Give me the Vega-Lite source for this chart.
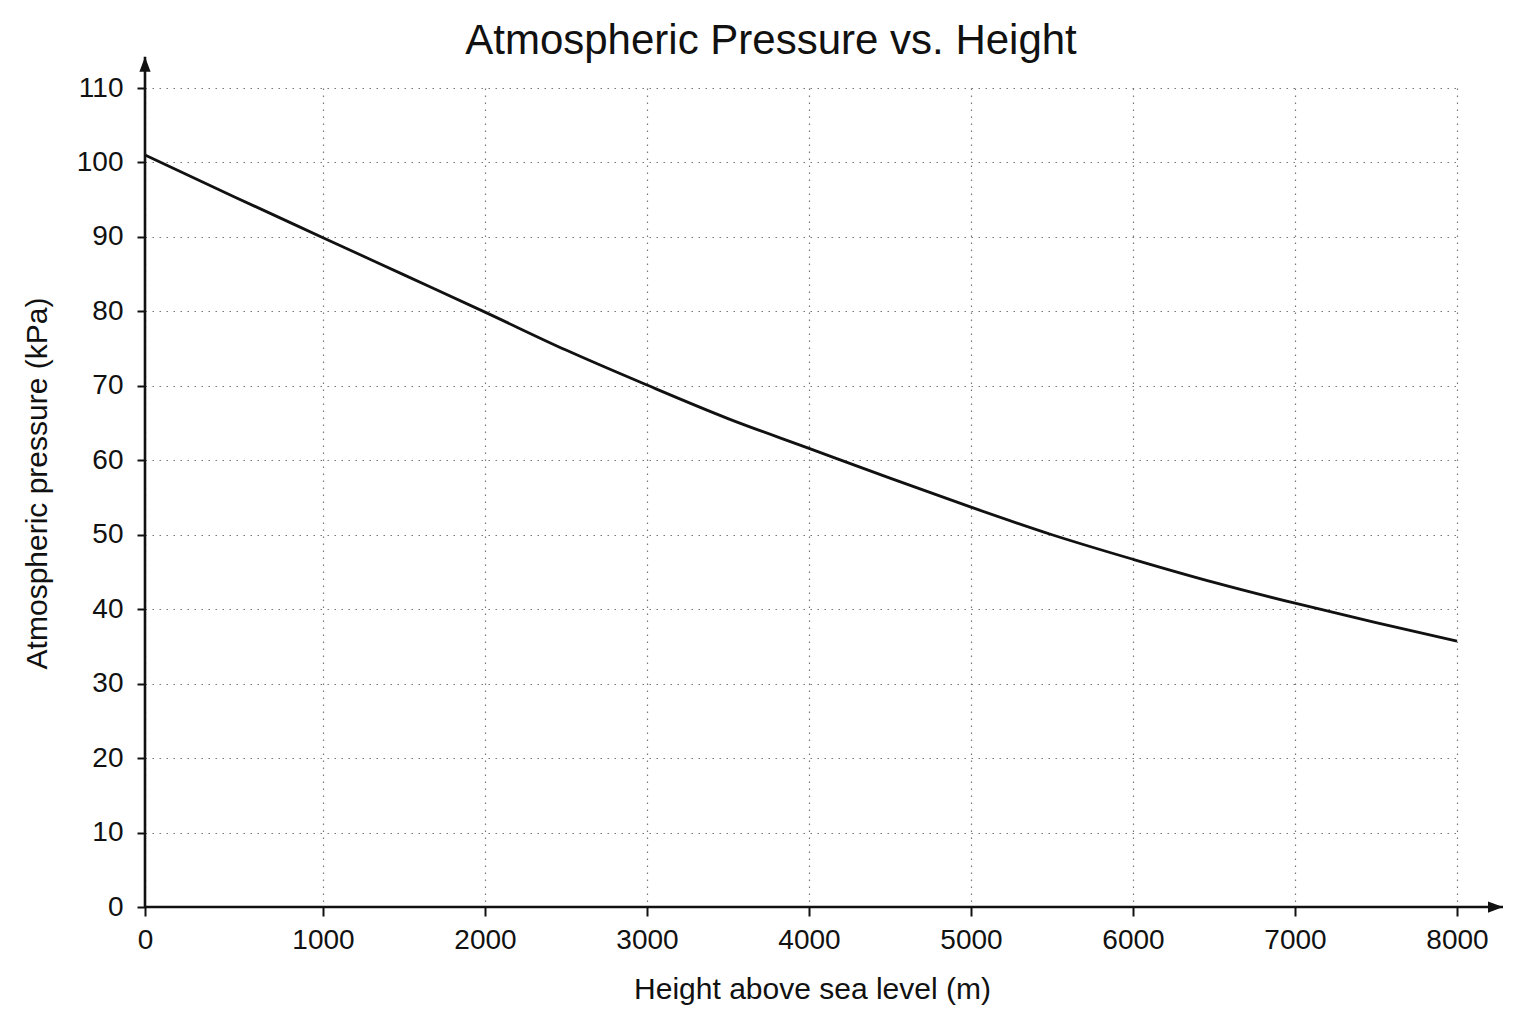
{
  "$schema": "https://vega.github.io/schema/vega-lite/v6.json",
  "autosize": {"type": "none"},
  "padding": {"left": 145, "top": 88, "right": 79, "bottom": 117},
  "width": 1312,
  "height": 819,
  "background": "white",
  "title": {
    "text": "Atmospheric Pressure vs. Height",
    "font": "Liberation Sans",
    "fontSize": 42,
    "fontWeight": "normal",
    "color": "#111",
    "anchor": "middle",
    "frame": "group",
    "dx": -30,
    "dy": 36,
    "offset": 28
  },
  "config": {
    "view": {"stroke": null},
    "axis": {
      "labelFont": "Liberation Sans",
      "titleFont": "Liberation Sans",
      "labelColor": "#111",
      "titleColor": "#111",
      "titleFontWeight": "normal",
      "labelFontSize": 28,
      "titleFontSize": 30,
      "labelFlush": false,
      "domain": false,
      "tickColor": "#111",
      "tickWidth": 2,
      "grid": true,
      "gridColor": "#777",
      "gridWidth": 1.2,
      "gridDash": [1.5, 5.5]
    }
  },
  "layer": [
    {
      "data": {
        "values": [
          {"height": 0, "pressure": 101.0},
          {"height": 500, "pressure": 95.4},
          {"height": 1000, "pressure": 89.9},
          {"height": 1500, "pressure": 84.9},
          {"height": 2000, "pressure": 79.9},
          {"height": 2500, "pressure": 74.8},
          {"height": 3000, "pressure": 70.1},
          {"height": 3500, "pressure": 65.6},
          {"height": 4000, "pressure": 61.6},
          {"height": 4500, "pressure": 57.6},
          {"height": 5000, "pressure": 53.7},
          {"height": 5500, "pressure": 50.0},
          {"height": 6000, "pressure": 46.7},
          {"height": 6500, "pressure": 43.6},
          {"height": 7000, "pressure": 40.8},
          {"height": 7500, "pressure": 38.2},
          {"height": 8000, "pressure": 35.7}
        ]
      },
      "mark": {"type": "line", "color": "#111", "strokeWidth": 2.8, "interpolate": "monotone"},
      "encoding": {
        "x": {
          "field": "height",
          "type": "quantitative",
          "scale": {"domain": [0, 1000, 8000], "range": [0, 178, 1312], "nice": false, "zero": false},
          "axis": {
            "title": "Height above sea level (m)",
            "values": [0, 1000, 2000, 3000, 4000, 5000, 6000, 7000, 8000],
            "format": "d",
            "tickSize": 9,
            "labelPadding": 10,
            "titleX": 667,
            "titleY": 82,
            "titleBaseline": "middle",
            "titleAnchor": "middle"
          }
        },
        "y": {
          "field": "pressure",
          "type": "quantitative",
          "scale": {"domain": [0, 110], "nice": false},
          "axis": {
            "title": "Atmospheric pressure (kPa)",
            "values": [0, 10, 20, 30, 40, 50, 60, 70, 80, 90, 100, 110],
            "tickSize": 8,
            "labelPadding": 14,
            "titleX": -108,
            "titleY": 395,
            "titleAngle": -90,
            "titleBaseline": "middle",
            "titleAlign": "center"
          }
        }
      }
    },
    {
      "data": {"values": [{"x": 0, "x2": 8284, "y": 0}]},
      "mark": {"type": "rule", "color": "#111", "strokeWidth": 2.6},
      "encoding": {
        "x": {"field": "x", "type": "quantitative"},
        "x2": {"field": "x2"},
        "y": {"field": "y", "type": "quantitative"}
      }
    },
    {
      "data": {"values": [{"x": 0, "y": 0, "y2": 114.2}]},
      "mark": {"type": "rule", "color": "#111", "strokeWidth": 2.6},
      "encoding": {
        "x": {"field": "x", "type": "quantitative"},
        "y": {"field": "y", "type": "quantitative"},
        "y2": {"field": "y2"}
      }
    },
    {
      "data": {"values": [{"x": 8284, "y": 0}]},
      "mark": {"type": "point", "shape": "M0,0 L-2,-0.75 L-2,0.75 Z", "size": 225, "filled": true, "color": "#111", "opacity": 1},
      "encoding": {
        "x": {"field": "x", "type": "quantitative"},
        "y": {"field": "y", "type": "quantitative"}
      }
    },
    {
      "data": {"values": [{"x": 0, "y": 114.2}]},
      "mark": {"type": "point", "shape": "M0,0 L-0.75,2 L0.75,2 Z", "size": 225, "filled": true, "color": "#111", "opacity": 1},
      "encoding": {
        "x": {"field": "x", "type": "quantitative"},
        "y": {"field": "y", "type": "quantitative"}
      }
    }
  ]
}
